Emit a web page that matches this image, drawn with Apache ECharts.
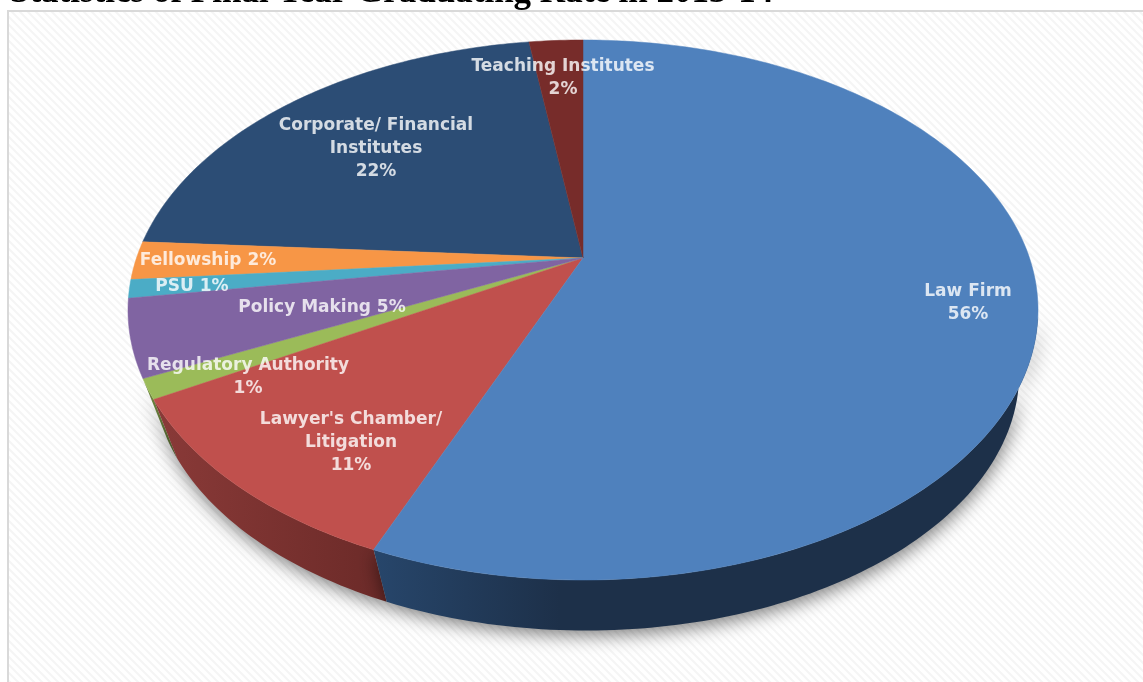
<!DOCTYPE html>
<html>
<head>
<meta charset="utf-8">
<style>html,body{margin:0;padding:0;background:#fff;overflow:hidden}#c{width:1143px;height:682px}</style>
<script src="https://cdn.jsdelivr.net/npm/echarts@6/dist/echarts.min.js"></script>
</head>
<body>
<div id="c"></div>
<script>
// Data (clockwise from 12 o'clock)
const categories = ['Law Firm', "Lawyer's Chamber/\nLitigation", 'Regulatory Authority', 'Policy Making', 'PSU', 'Fellowship', 'Corporate/ Financial\nInstitutes', 'Teaching Institutes'];
const values = [56.3, 10.5, 1.2, 4.6, 1.1, 2.3, 21.7, 2.3];
const colors = ['#4f81bd', '#c0504d', '#9bbb59', '#8064a2', '#4bacc6', '#f79646', '#2c4d75', '#772c2a'];
const wallDark = ['#1d3049', '#6b2a28', '#5d7035', '#4c3c61', '#2d6776', '#94592a', '#1a2e46', '#471a19'];
const wallLight = ['#27466b', '#8a3a38', '#6f8640', '#5b4875', '#35788a', '#a86632', '#1a2e46', '#471a19'];
const separators = ['\n', '\n', '\n', ' ', ' ', ' ', '\n', '\n'];
const labelAnchors = [[968, 303], [351, 443], [248, 377], [322, 308], [192, 287], [208, 261], [376, 149], [563, 78]];

const cx = 583, cy = 258, K = 0.1926, S = 260, R = 446.5;
const wallFrontStart = 0.285;
const total = values.reduce((a, b) => a + b, 0);

function topPoint(t) {
  const a = t * 2 * Math.PI, u = Math.sin(a), v = -Math.cos(a), d = 1 - K * v;
  return [cx + R * u / d, cy + S * v / d];
}
function lowPoint(t) {
  const p = topPoint(t);
  return [586 + (p[0] - 583) * 0.952, 373.5 + (p[1] - 310) * 0.952];
}
function arcPts(fn, a, b) {
  const n = Math.max(2, Math.ceil(Math.abs(b - a) * 360)), out = [];
  for (let i = 0; i <= n; i++) out.push(fn(a + (b - a) * i / n));
  return out;
}
const starts = [];
values.reduce((acc, v, i) => { starts[i] = acc; return acc + v; }, 0);

// hatched background pattern
const pat = document.createElement('canvas');
pat.width = 8; pat.height = 8;
const g = pat.getContext('2d');
g.fillStyle = '#ffffff'; g.fillRect(0, 0, 8, 8);
g.strokeStyle = '#f5f5f5'; g.lineWidth = 2;
[[-2, -2, 10, 10], [-6, 2, 2, 10], [2, -6, 10, 2]].forEach(l => { g.beginPath(); g.moveTo(l[0], l[1]); g.lineTo(l[2], l[3]); g.stroke(); });

function renderSlice(params, api) {
  const i = api.value(0), v = api.value(1);
  const a = starts[i] / total, b = (starts[i] + v) / total;
  const top = arcPts(topPoint, a, b);
  const wa = Math.max(a, wallFrontStart);
  const wallPts = arcPts(topPoint, wa, b).concat(arcPts(lowPoint, wa, b).reverse());
  const children = [];
  if (i <= 2) {
    children.push({
      type: 'polygon', shape: { points: wallPts },
      style: { fill: new echarts.graphic.LinearGradient(0, 0, 1, 0, i === 0 ?
        [{offset: 0, color: wallLight[i]}, {offset: 0.28, color: wallDark[i]}, {offset: 1, color: wallDark[i]}] :
        [{offset: 0, color: wallLight[i]}, {offset: 1, color: wallDark[i]}]),
        stroke: null, shadowBlur: 18, shadowColor: 'rgba(0,0,0,0.5)', shadowOffsetY: 5, shadowOffsetX: 1 }
    });
  }
  children.push({
    type: 'polygon', z2: 5,
    shape: { points: [[cx, cy]].concat(top) },
    style: { fill: colors[i], stroke: colors[i], lineWidth: 0.5 }
  });
  return { type: 'group', children };
}

const chart = echarts.init(document.getElementById('c'), null, { renderer: 'canvas' });
const order = [2, 1, 0, 6, 7, 5, 4, 3];
chart.setOption({
  animation: false,
  backgroundColor: '#ffffff',
  title: {
    text: 'Statistics of Final Year Graduating Rate in 2013-14',
    left: 5, top: -30,
    textStyle: { fontFamily: 'Liberation Serif', fontWeight: 'bold', fontSize: 35, color: '#000' }
  },
  graphic: [{
    type: 'rect', z: -1, silent: true,
    shape: { x: 8, y: 11, width: 1140, height: 680 },
    style: { fill: { image: pat, repeat: 'repeat' }, stroke: '#d9d9d9', lineWidth: 2 }
  }],
  xAxis: { show: false, min: 0, max: 1143 },
  yAxis: { show: false, min: 0, max: 682, inverse: true },
  grid: { left: 0, right: 0, top: 0, bottom: 0 },
  series: [{
    type: 'custom', coordinateSystem: 'none', silent: true, z: 2,
    renderItem: renderSlice,
    data: order.map(i => [i, values[i]])
  }, {
    type: 'scatter', z: 5, silent: true, symbolSize: 0,
    data: categories.map((c, i) => ({
      value: labelAnchors[i],
      label: {
        show: true, position: 'inside', align: 'center', verticalAlign: 'middle',
        formatter: c + separators[i] + Math.round(values[i]) + '%',
        color: '#ffffff', fontFamily: 'DejaVu Sans', fontWeight: 'bold', fontSize: 17, lineHeight: 23
      }
    }))
  }]
});
</script>
</body>
</html>
